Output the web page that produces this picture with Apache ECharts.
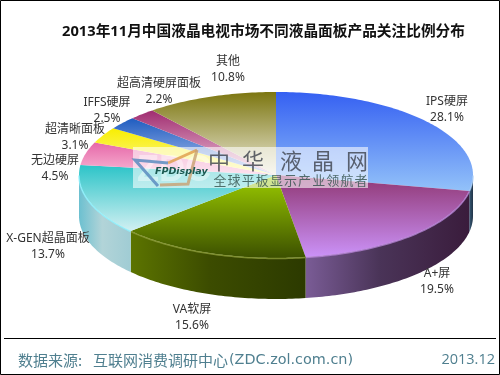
<!DOCTYPE html>
<html><head><meta charset="utf-8">
<style>html,body{margin:0;padding:0;background:#fff}#c{width:500px;height:375px}</style>
<script src="https://cdn.jsdelivr.net/npm/echarts@6/dist/echarts.min.js"></script>
</head><body><div id="c"></div>
<script>
const categories = ['IPS硬屏','A+屏','VA软屏','X-GEN超晶面板','无边硬屏','超清晰面板','IFFS硬屏','超高清硬屏面板','其他'];
const shares = [28.1,19.5,15.6,13.7,4.5,3.1,2.5,2.2,10.8];
const titleText = '2013年11月中国液晶电视市场不同液晶面板产品关注比例分布';
const sourceHead = '数据来源:';
const sourceName = '互联网消费调研中心';
const sourceSite = '(ZDC.zol.com.cn)';
const dateText = '2013.12';

// styles, per slice: top gradient [dark top, light bottom], wall gradient [left, mid, right], rim highlight
const topColors = [['#3560f2','#93c2f9'],['#8f3672','#cb92f8'],['#9ccc00','#3c5000'],['#2cc4c8','#d2f0f2'],['#e668a8','#f9b8d6'],['#f8ee00','#fdf8a0'],['#1e5cc0','#b8c8f0'],['#a02c70','#f0c8dc'],['#7c7610','#eeecdc']];
const wallColors = [['#3a5a78','#2c4860','#223448'],['#7a5c96','#4a3458','#3a1c3c'],['#5c7400','#3c4c00','#2c3a00'],['#6cc0d0','#b2d4d8','#a0ccd4'],['#e070a8','#e070a8','#e070a8'],['#eee000','#eee000','#eee000'],['#2060c0','#2060c0','#2060c0'],['#a02c70','#a02c70','#a02c70'],['#807a10','#807a10','#807a10']];
const rimColors = ['#a8ccf8','#b884d8','#8c9c38','#8ef2ff','#f8b0d0','#fff','#88a8e8','#d080b0','#c8c4a0'];
// layout
const CX=276, CY=175, RX=197, RY=83, DEPTH=41;
const labelCenters = [[447,110],[437,282],[192,318],[48,247],[55,169],[75,138],[107,111],[159,92],[228,70]];

const total = shares.reduce((a,b)=>a+b,0);
const pt = (deg,dy)=>{const t=deg*Math.PI/180;return [CX+RX*Math.sin(t),CY-RY*Math.cos(t)+(dy||0)];};
const arc = (a0,a1,dy)=>{const r=[];const n=Math.max(2,Math.ceil(Math.abs(a1-a0)));for(let i=0;i<=n;i++)r.push(pt(a0+(a1-a0)*i/n,dy));return r;};
const LG = (x,y,x2,y2,stops)=>new echarts.graphic.LinearGradient(x,y,x2,y2,stops);

function renderItem(params, api){
  const i = params.dataIndex;
  let before = 0; for(let k=0;k<i;k++) before += shares[k];
  const a0 = before/total*360, a1 = (before+api.value(0))/total*360;
  const children = [];
  const w0 = Math.max(a0,90), w1 = Math.min(a1,270);
  if(w1>w0){
    const front = arc(w0,w1,0), back = arc(w1,w0,DEPTH);
    const c = wallColors[i];
    children.push({type:'polygon',shape:{points:front.concat(back)},style:{fill:LG(0,0,1,0,[{offset:0,color:c[0]},{offset:.45,color:c[1]},{offset:1,color:c[2]}])}});
  }
  const t = topColors[i];
  children.push({type:'polygon',shape:{points:[[CX,CY]].concat(arc(a0,a1))},style:{fill:LG(0,0,0,1,[{offset:0,color:t[0]},{offset:1,color:t[1]}])}});
  if(w1>w0){
    children.push({type:'polyline',shape:{points:arc(w0,w1,.5)},style:{fill:null,stroke:rimColors[i],lineWidth:1.5,opacity:.8}});
  }
  const lc = labelCenters[i];
  children.push({type:'text',x:lc[0],y:lc[1],z2:50,style:{text:api.value(1)+'\n'+api.value(0).toFixed(1)+'%',align:'center',verticalAlign:'middle',lineHeight:16,fill:'#333',font:'12px "Noto Sans","Noto Sans CJK SC"'}});
  return {type:'group',children};
}

const wm = [];
wm.push({type:'rect',z:100,shape:{x:133,y:147,width:235,height:41},style:{fill:'rgba(255,255,255,.58)'}});
wm.push({type:'text',z:101,x:137,y:153,style:{text:'ZDC',fill:'rgba(255,255,255,.4)',font:'bold 36px "Liberation Sans"'}});
wm.push({type:'polyline',z:102,shape:{points:[[197,150],[168,163]]},style:{fill:null,stroke:'#e0a050',lineWidth:3,opacity:.85}});
wm.push({type:'polyline',z:102,shape:{points:[[197,150],[188,184],[160,185]]},style:{fill:null,stroke:'#c8a070',lineWidth:3,opacity:.8}});
wm.push({type:'polyline',z:103,shape:{points:[[168,163],[135,160],[158,186]]},style:{fill:null,stroke:'#5a8cc0',lineWidth:3,opacity:.85}});
wm.push({type:'text',z:104,x:155,y:172,style:{text:'FPDisplay',fill:'#1c5a52',font:'italic bold 9.5px "DejaVu Sans"',verticalAlign:'middle'}});
['中','华','液','晶','网'].forEach((ch,k)=>wm.push({type:'text',z:104,x:[219,253,291,323,357][k],y:161,style:{text:ch,fill:'rgba(60,65,75,.8)',font:'22px "Noto Sans CJK SC"',align:'center',verticalAlign:'middle'}}));
Array.from('全球平板显示产业领航者').forEach((ch,k)=>wm.push({type:'text',z:104,x:220+k*14.1,y:180,style:{text:ch,fill:'rgba(50,80,75,.8)',font:'13px "Noto Sans CJK SC"',align:'center',verticalAlign:'middle'}}));

const chart = echarts.init(document.getElementById('c'),null,{renderer:'canvas'});
chart.setOption({
  animation:false,
  backgroundColor:'#fff',
  series:[{type:'custom',coordinateSystem:'none',silent:true,clip:false,renderItem,
    data:categories.map((n,i)=>[shares[i],n]),encode:{value:0},dimensions:[{name:'v',type:'number'},{name:'n',type:'ordinal'}]}],
  graphic:{elements:[
    {type:'rect',z:120,shape:{x:.5,y:.5,width:499,height:374},style:{fill:null,stroke:'#000',lineWidth:1}},
    {type:'text',z:120,x:263.5,y:32,style:{text:titleText,align:'center',verticalAlign:'middle',fill:'#111',font:'bold 14.7px "Noto Sans","Noto Sans CJK SC"'}},
    {type:'line',z:120,shape:{x1:4,y1:338.5,x2:496,y2:338.5},style:{stroke:'#000',lineWidth:1}},
    {type:'text',z:120,x:18,y:360,style:{text:sourceHead,verticalAlign:'middle',fill:'#4f7f8f',font:'15px "Noto Sans CJK SC"'}},
    {type:'text',z:120,x:93,y:360,style:{text:sourceName,verticalAlign:'middle',fill:'#4f7f8f',font:'15px "Noto Sans CJK SC"'}},
    {type:'text',z:120,x:229,y:360,style:{text:sourceSite,verticalAlign:'middle',fill:'#4f7f8f',font:'14.4px "DejaVu Sans"'}},
    {type:'text',z:120,x:495,y:360,style:{text:dateText,align:'right',verticalAlign:'middle',fill:'#4f7f8f',font:'14.5px "Open Sans"'}}
  ].concat(wm)}
});
</script></body></html>
